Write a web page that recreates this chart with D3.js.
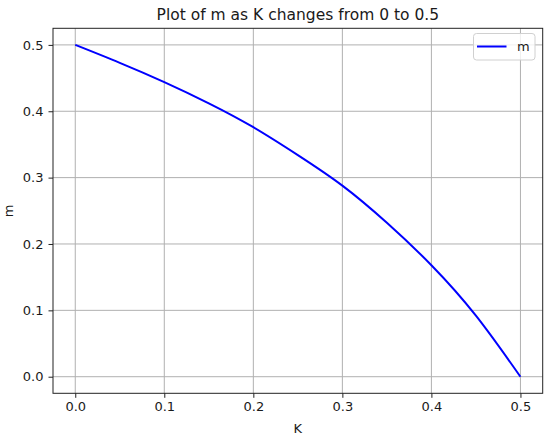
<!DOCTYPE html>
<html>
<head>
<meta charset="utf-8">
<script src="https://cdn.jsdelivr.net/npm/d3@7"></script>
<style>
  html, body { margin: 0; padding: 0; background: #fff; }
  svg { display: block; }
  text { font-family: "DejaVu Sans", sans-serif; fill: #1a1a1a; }
</style>
</head>
<body>
<svg id="chart" width="550" height="437"></svg>
<script>
// Data
const kValues = [0, 0.05, 0.1, 0.15, 0.2, 0.25, 0.3, 0.35, 0.4, 0.45, 0.5];
const mValues = [0.5, 0.473, 0.444, 0.412, 0.376, 0.334, 0.288, 0.232, 0.168, 0.092, 0];
const xTicks = [0.0, 0.1, 0.2, 0.3, 0.4, 0.5];
const yTicks = [0.0, 0.1, 0.2, 0.3, 0.4, 0.5];
const titleText = "Plot of m as K changes from 0 to 0.5";
const xLabel = "K";
const yLabel = "m";
const seriesName = "m";

const svg = d3.select("#chart");
const pLeft = 53, pRight = 542.7, pTop = 28.3, pBottom = 393.3;

const x = d3.scaleLinear().domain([-0.025, 0.525]).range([pLeft, pRight]);
const y = d3.scaleLinear().domain([-0.025, 0.525]).range([pBottom, pTop]);

// grid
const grid = svg.append("g");
grid.selectAll("line.vx").data(xTicks).enter().append("line")
  .attr("x1", d => x(d)).attr("x2", d => x(d))
  .attr("y1", pTop).attr("y2", pBottom)
  .attr("stroke", "#b0b0b0").attr("stroke-width", 1);
grid.selectAll("line.hy").data(yTicks).enter().append("line")
  .attr("y1", d => y(d)).attr("y2", d => y(d))
  .attr("x1", pLeft).attr("x2", pRight)
  .attr("stroke", "#b0b0b0").attr("stroke-width", 1);

// line
const pts = kValues.map((k, i) => [k, mValues[i]]);
svg.append("path")
  .datum(pts)
  .attr("fill", "none")
  .attr("stroke", "#0000ff")
  .attr("stroke-width", 2)
  .attr("d", d3.line().x(d => x(d[0])).y(d => y(d[1])).curve(d3.curveNatural));

// axes
const xAxis = d3.axisBottom(x).tickValues(xTicks).tickFormat(d3.format(".1f")).tickSize(4.5).tickPadding(4);
const yAxis = d3.axisLeft(y).tickValues(yTicks).tickFormat(d3.format(".1f")).tickSize(4.5).tickPadding(5);

const gx = svg.append("g").attr("transform", `translate(0,${pBottom})`).call(xAxis);
const gy = svg.append("g").attr("transform", `translate(${pLeft},0)`).call(yAxis);
[gx, gy].forEach(g => {
  g.select(".domain").remove();
  g.selectAll(".tick line").attr("stroke", "#222").attr("stroke-width", 1);
  g.selectAll(".tick text").style("font-size", "13px").attr("fill", "#1a1a1a").style("font-family", "DejaVu Sans, sans-serif");
});

// frame
svg.append("rect")
  .attr("x", pLeft).attr("y", pTop)
  .attr("width", pRight - pLeft).attr("height", pBottom - pTop)
  .attr("fill", "none").attr("stroke", "#222").attr("stroke-width", 1);

// title and labels
svg.append("text").attr("x", (pLeft + pRight) / 2).attr("y", 19.5)
  .attr("text-anchor", "middle").style("font-size", "15.5px").text(titleText);
svg.append("text").attr("x", (pLeft + pRight) / 2).attr("y", 432.5)
  .attr("text-anchor", "middle").style("font-size", "13px").text(xLabel);
svg.append("text")
  .attr("transform", `translate(12.5,${(pTop + pBottom) / 2}) rotate(-90)`)
  .attr("text-anchor", "middle").style("font-size", "13px").text(yLabel);

// legend
const lg = svg.append("g");
lg.append("rect").attr("x", 473.5).attr("y", 33.5).attr("width", 61.5).attr("height", 26.5)
  .attr("rx", 3).attr("fill", "#fff").attr("fill-opacity", 0.8)
  .attr("stroke", "#d0d0d0").attr("stroke-width", 1);
lg.append("line").attr("x1", 477).attr("x2", 506.5).attr("y1", 46.5).attr("y2", 46.5)
  .attr("stroke", "#0000ff").attr("stroke-width", 2);
lg.append("text").attr("x", 517).attr("y", 51).style("font-size", "13px").text(seriesName);
</script>
</body>
</html>
